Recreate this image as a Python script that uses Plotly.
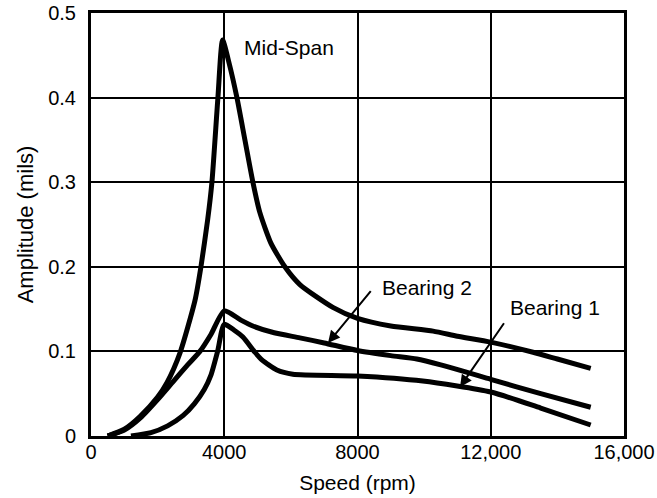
import plotly.graph_objects as go

# ---- data ----
mid_span_speed = [500, 1000, 1470, 2000, 2280, 2670, 3120, 3300, 3500, 3630, 3810, 3950,
                  4150, 4380, 4620, 4860, 5070, 5400, 5820, 6270, 7260, 8000, 9000,
                  10270, 11000, 12000, 13270, 14000, 15000]
mid_span_amp = [0.0, 0.008, 0.023, 0.046, 0.063, 0.098, 0.160, 0.200, 0.255, 0.300, 0.400, 0.468,
                0.440, 0.400, 0.350, 0.300, 0.264, 0.228, 0.200, 0.179, 0.152, 0.139, 0.130,
                0.124, 0.118, 0.111, 0.099, 0.091, 0.080]

bearing2_speed = [500, 1000, 1500, 2000, 2460, 2900, 3270, 3600, 4000, 4500, 4860, 5500,
                  6270, 7000, 8000, 9000, 9780, 10500, 12000, 13500, 15000]
bearing2_amp = [0.0, 0.007, 0.022, 0.043, 0.064, 0.084, 0.100, 0.120, 0.148, 0.137, 0.130, 0.122,
                0.116, 0.110, 0.101, 0.095, 0.091, 0.084, 0.067, 0.050, 0.034]

bearing1_speed = [1200, 1800, 2300, 2760, 3100, 3400, 3600, 3800, 4000, 4300, 4560, 4920,
                  5130, 5580, 6060, 8000, 9960, 12000, 13500, 15000]
bearing1_amp = [0.0, 0.004, 0.012, 0.024, 0.038, 0.055, 0.072, 0.100, 0.132, 0.125, 0.117, 0.099,
                0.090, 0.078, 0.073, 0.071, 0.065, 0.052, 0.033, 0.013]

x_tickvals = [0, 4000, 8000, 12000, 16000]
x_ticktext = ["0", "4000", "8000", "12,000", "16,000"]
y_tickvals = [0, 0.1, 0.2, 0.3, 0.4, 0.5]
y_ticktext = ["0", "0.1", "0.2", "0.3", "0.4", "0.5"]

FONT = "Liberation Sans, Arial, Helvetica, sans-serif"

fig = go.Figure()
for name, xs, ys in [("Mid-Span", mid_span_speed, mid_span_amp),
                     ("Bearing 2", bearing2_speed, bearing2_amp),
                     ("Bearing 1", bearing1_speed, bearing1_amp)]:
    fig.add_trace(go.Scatter(x=xs, y=ys, mode="lines", name=name,
                             line=dict(color="black", width=5, shape="spline", smoothing=0.6)))

annots = [
    dict(x=5944, y=0.459, text="Mid-Span", showarrow=False),
    dict(x=10086, y=0.176, text="Bearing 2", showarrow=False),
    dict(x=13929, y=0.152, text="Bearing 1", showarrow=False),
    dict(x=7114, y=0.110, ax=8435, ay=0.173, axref="x", ayref="y", text="",
         showarrow=True, arrowhead=2, arrowsize=1.2, arrowwidth=2, arrowcolor="black"),
    dict(x=11077, y=0.058, ax=12428, ay=0.135, axref="x", ayref="y", text="",
         showarrow=True, arrowhead=2, arrowsize=1.2, arrowwidth=2, arrowcolor="black"),
]
for a in annots:
    a.setdefault("font", dict(family=FONT, size=21, color="black"))
    fig.add_annotation(**a)

fig.update_layout(
    width=657, height=498,
    margin=dict(l=91, r=33, t=13, b=62, autoexpand=False),
    paper_bgcolor="white", plot_bgcolor="white",
    showlegend=False,
    font=dict(family=FONT, size=20, color="black"),
    xaxis=dict(range=[0, 16000], tickvals=x_tickvals, ticktext=x_ticktext,
               showgrid=True, gridcolor="black", gridwidth=2, zeroline=False,
               showline=True, linecolor="black", linewidth=3, mirror=True,
               ticks="", ticklabelstandoff=-4, automargin=False,
               title=dict(text="Speed (rpm)", font=dict(size=21), standoff=14)),
    yaxis=dict(range=[0, 0.5], tickvals=y_tickvals, ticktext=y_ticktext,
               showgrid=True, gridcolor="black", gridwidth=2, zeroline=False,
               showline=True, linecolor="black", linewidth=3, mirror=True,
               ticks="", ticklabelstandoff=8, automargin=False,
               title=dict(text="Amplitude (mils)", font=dict(size=22), standoff=9)),
)

fig.write_html("out.html", config={"displayModeBar": False},
               post_script="document.body.style.margin='0';document.body.style.overflow='hidden';")
